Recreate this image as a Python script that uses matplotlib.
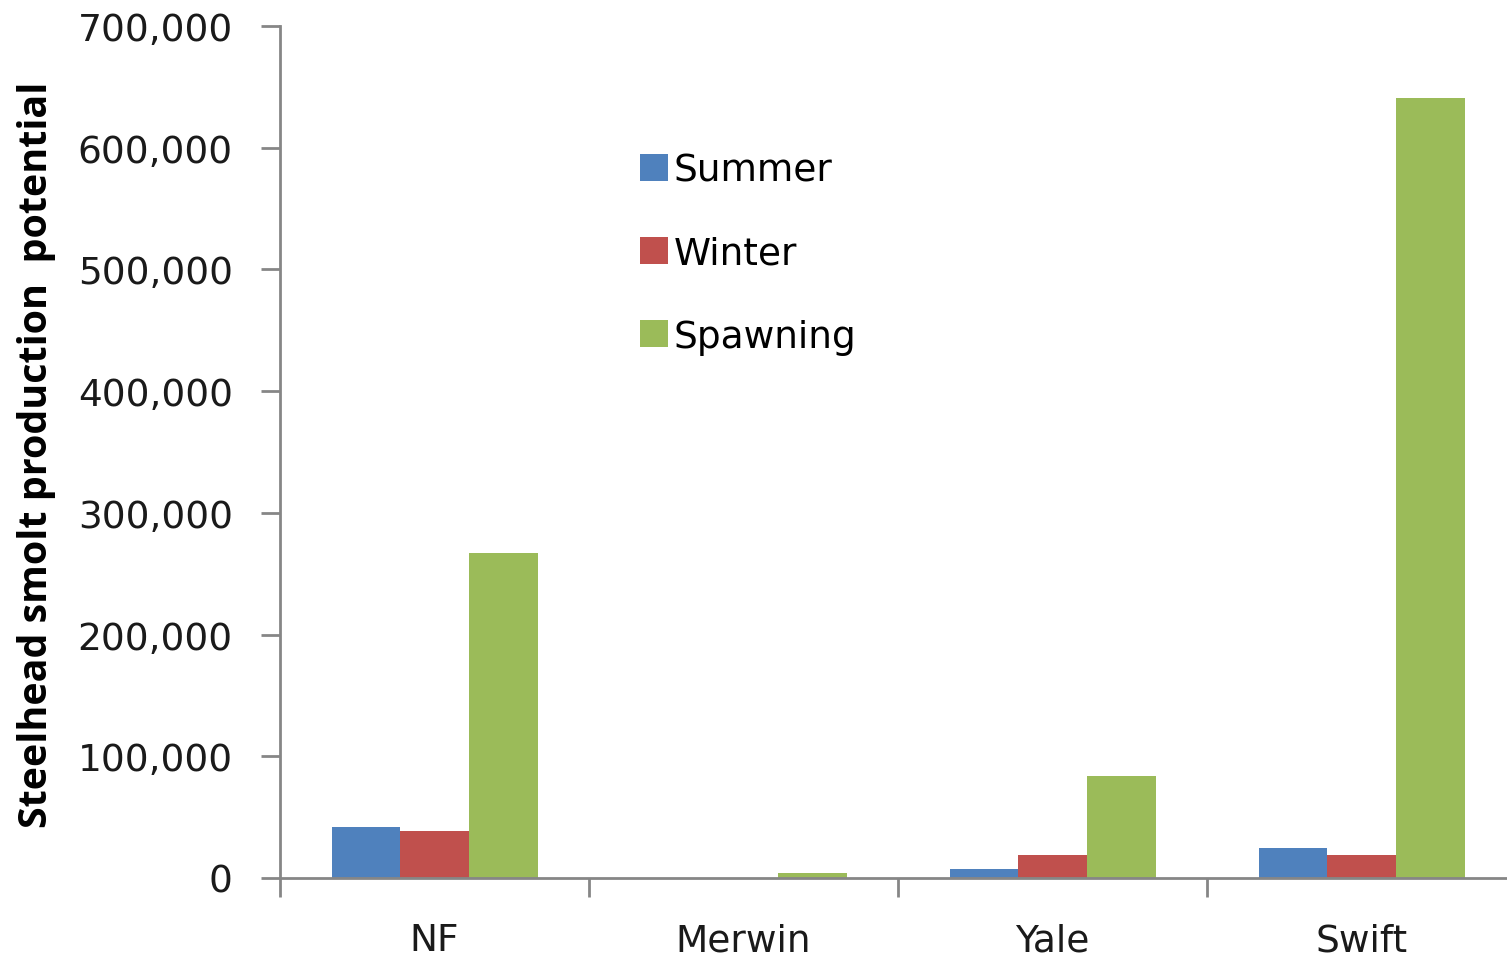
#!/usr/bin/env python
#------------------------------

import numpy as np
import matplotlib
matplotlib.use('Agg')
import matplotlib.pyplot as plt
from matplotlib.ticker import FuncFormatter, FixedLocator

#------------------------------

sites    = ['NF', 'Merwin', 'Yale', 'Swift']
summer   = [42000, 0, 7000, 25000]
winter   = [39000, 0, 19000, 19000]
spawning = [267000, 4000, 84000, 641000]

series = [('Summer', summer, '#4F81BD'),
          ('Winter', winter, '#C0504D'),
          ('Spawning', spawning, '#9BBB59')]

#------------------------------

W, H = 1507, 962
fig = plt.figure(figsize=(W/100., H/100.), dpi=100)
ax = fig.add_axes([280./W, 83./H, 1236./W, 852./H])

x = np.arange(len(sites))
bw = 1/4.5
for i, (name, vals, col) in enumerate(series) :
    ax.bar(x + (i-1)*bw, vals, width=bw, color=col, label=name, zorder=2)

ax.set_xlim(-0.5, len(sites)-0.5)
ax.set_ylim(0, 700000)
ax.set_yticks(np.arange(0, 700001, 100000))
ax.yaxis.set_major_formatter(FuncFormatter(lambda v, p : '{:,.0f}'.format(v)))

# category labels centred, tick marks on the boundaries
ax.xaxis.set_major_locator(FixedLocator(np.arange(-0.5, len(sites), 1.0)))
ax.xaxis.set_minor_locator(FixedLocator(x))
ax.set_xticklabels([], minor=False)
ax.set_xticklabels(sites, minor=True)
ax.tick_params(axis='x', which='major', length=14, width=2, color='#868686', direction='out')
ax.tick_params(axis='x', which='minor', length=0, pad=32, labelsize=27, labelcolor='#1a1a1a')
ax.tick_params(axis='y', length=14, width=2, color='#868686', direction='out',
               labelsize=27, labelcolor='#1a1a1a', pad=20)

for s in ['top', 'right'] :
    ax.spines[s].set_visible(False)
for s in ['left', 'bottom'] :
    ax.spines[s].set_color('#868686')
    ax.spines[s].set_linewidth(2)

fig.text(37./W, 1-455./H, 'Steelhead smolt production  potential',
         rotation=90, ha='center', va='center', fontsize=28.4,
         fontweight='bold', family='Open Sans', color='black')

leg = ax.legend(loc='upper left', bbox_to_anchor=(621./W, 1-135./H),
                bbox_transform=fig.transFigure, frameon=False, fontsize=27,
                handlelength=0.75, handleheight=0.75, handletextpad=0.15,
                labelspacing=1.25, borderpad=0)

fig.savefig('out.png', dpi=100)
